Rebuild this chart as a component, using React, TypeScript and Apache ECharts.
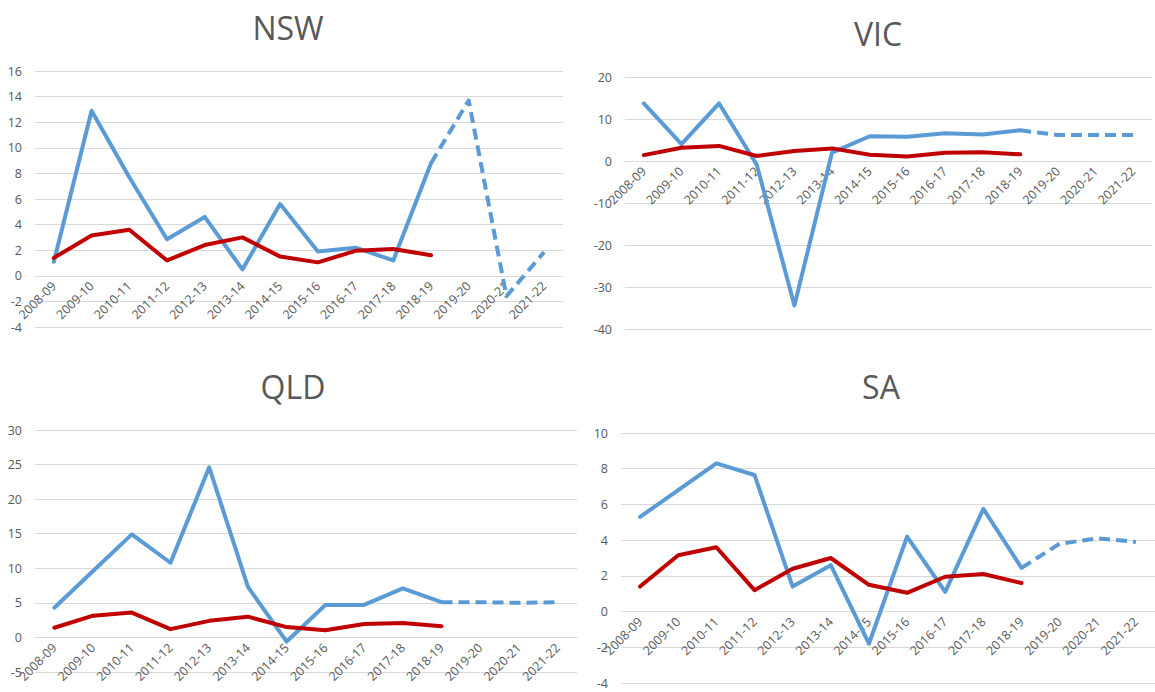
import React, { useEffect, useRef } from 'react';
import * as echarts from 'echarts';

const categories = ['2008-09', '2009-10', '2010-11', '2011-12', '2012-13', '2013-14', '2014-15', '2015-16', '2016-17', '2017-18', '2018-19', '2019-20', '2020-21', '2021-22'];

// red line (same in every panel)
const national = [1.4, 3.15, 3.6, 1.2, 2.4, 3.0, 1.5, 1.05, 1.95, 2.1, 1.6];

// blue lines: actual 2008-09..2018-19, forecast 2019-20..2021-22
const nswActual = [1.1, 12.9, 7.7, 2.85, 4.6, 0.5, 5.6, 1.9, 2.2, 1.2, 8.8];
const nswForecast = [13.7, -1.6, 1.85];
const vicActual = [13.7, 4.0, 13.7, -0.9, -34.4, 2.0, 5.9, 5.8, 6.6, 6.3, 7.3];
const vicForecast = [6.2, 6.2, 6.2];
const qldActual = [4.3, 9.6, 14.9, 10.8, 24.6, 7.3, -0.6, 4.7, 4.7, 7.1, 5.1];
const qldForecast = [5.1, 5.0, 5.1];
const saActual = [5.3, 6.8, 8.3, 7.65, 1.4, 2.6, -1.8, 4.2, 1.1, 5.75, 2.45];
const saForecast = [3.8, 4.1, 3.9];

const panelNames = ['NSW', 'VIC', 'QLD', 'SA'];
const actuals = [nswActual, vicActual, qldActual, saActual];
const forecasts = [nswForecast, vicForecast, qldForecast, saForecast];
const yMins = [-4, -40, -5, -4];
const yMaxs = [16, 20, 30, 10];
const yIntervals = [2, 10, 5, 2];

// layout
const grids = [
  { left: 35, top: 71, width: 528, height: 256 },
  { left: 625, top: 77, width: 527, height: 252 },
  { left: 35, top: 430, width: 542, height: 242 },
  { left: 621, top: 433, width: 536, height: 250 },
];
const titlePos = [
  [288, 27],
  [878, 33],
  [293, 386],
  [881, 386],
];

const BLUE = '#5B9BD5';
const RED = '#C00000';
const TEXT = '#595959';
const GRID = '#D9D9D9';

export default function App() {
  const ref = useRef<HTMLDivElement>(null);
  useEffect(() => {
    if (!ref.current) return;
    const chart = echarts.init(ref.current, undefined, { renderer: 'svg' });
    const xAxis: any[] = [];
    const yAxis: any[] = [];
    const series: any[] = [];
    const graphic: any[] = [];
    panelNames.forEach((name, i) => {
      const g = grids[i];
      // move the category axis up to the value 0 of the value axis
      const zeroOffset = -g.height * (0 - yMins[i]) / (yMaxs[i] - yMins[i]);
      xAxis.push({
        type: 'category',
        gridIndex: i,
        data: categories,
        boundaryGap: true,
        position: 'bottom',
        offset: zeroOffset,
        axisLine: { show: true, onZero: false, lineStyle: { color: GRID, width: 1 } },
        axisTick: { show: false },
        axisLabel: {
          interval: 0,
          rotate: 45,
          margin: 8,
          color: TEXT,
          fontSize: 12.5,
          fontFamily: 'Open Sans',
        },
        splitLine: { show: false },
      });
      yAxis.push({
        type: 'value',
        gridIndex: i,
        min: yMins[i],
        max: yMaxs[i],
        interval: yIntervals[i],
        axisLine: { show: false },
        axisTick: { show: false },
        axisLabel: { color: TEXT, fontSize: 12.5, margin: 13, fontFamily: 'Open Sans' },
        splitLine: { show: true, lineStyle: { color: GRID, width: 1 } },
      });
      const actual = actuals[i];
      const fc = forecasts[i];
      const dashed: (number | null)[] = categories.map(() => null);
      dashed[actual.length - 1] = actual[actual.length - 1];
      fc.forEach((v, k) => {
        dashed[actual.length + k] = v;
      });
      series.push({
        type: 'line',
        xAxisIndex: i,
        yAxisIndex: i,
        data: actual,
        symbol: 'none',
        lineStyle: { color: BLUE, width: 4, join: 'round', cap: 'round' },
        z: 2,
      });
      series.push({
        type: 'line',
        xAxisIndex: i,
        yAxisIndex: i,
        data: dashed,
        symbol: 'none',
        connectNulls: false,
        lineStyle: { color: BLUE, width: 4, type: [11, 6], join: 'round' },
        z: 2,
      });
      series.push({
        type: 'line',
        xAxisIndex: i,
        yAxisIndex: i,
        data: national,
        symbol: 'none',
        lineStyle: { color: RED, width: 4, join: 'round', cap: 'round' },
        z: 3,
      });
      graphic.push({
        type: 'text',
        x: titlePos[i][0],
        y: titlePos[i][1],
        style: {
          text: name,
          fontSize: 32,
          fontFamily: 'Open Sans',
          fill: TEXT,
          align: 'center',
          verticalAlign: 'middle',
          textAlign: 'center',
          textVerticalAlign: 'middle',
        },
      });
    });
    chart.setOption({
      animation: false,
      backgroundColor: '#ffffff',
      grid: grids.map((g) => ({ ...g, containLabel: false })),
      xAxis,
      yAxis,
      series,
      graphic,
    });
    return () => chart.dispose();
  }, []);
  return (
    <div
      ref={ref}
      style={{ position: 'absolute', left: 0, top: 0, width: 1155, height: 692, background: '#fff' }}
    />
  );
}
